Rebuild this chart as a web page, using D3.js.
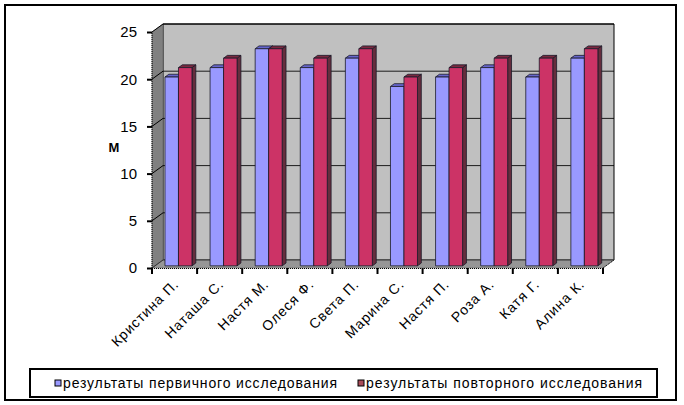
<!DOCTYPE html>
<html><head><meta charset="utf-8">
<script src="https://cdn.jsdelivr.net/npm/d3@7/dist/d3.min.js"></script>
<style>body{margin:0;background:#fff}svg{display:block}</style>
</head><body>
<svg id="c" width="684" height="405"></svg>
<script>
const categories = ["Кристина П.","Наташа С.","Настя М.","Олеся Ф.","Света П.","Марина С.","Настя П.","Роза А.","Катя Г.","Алина К."];
const primary = [20,21,23,21,22,19,20,21,20,22];
const repeat  = [21,22,23,22,23,20,21,22,22,23];
const seriesNames = ["результаты первичного исследования","результаты повторного исследования"];
const yTicks = [0,5,10,15,20,25];

const svg = d3.select("#c");
const font = "'Liberation Sans', Arial, sans-serif";
const DX = 11, DY = -8;           // depth offset of back wall
const x0 = 152, x1 = 603, yBot = 268, yTop = 32;
const y = d3.scaleLinear().domain([0,25]).range([yBot, yTop]);
const xb = d3.scaleBand().domain(categories).range([x0, x1]).paddingInner(0).paddingOuter(0);
const sub = d3.scaleBand().domain([0,1]).range([10, 37]).paddingInner(0).paddingOuter(0);

// outer border
svg.append("rect").attr("x",5).attr("y",5).attr("width",671).attr("height",395)
  .attr("fill","#fff").attr("stroke","#000").attr("stroke-width",2);

const pt = (a)=>a.map(p=>p.join(",")).join(" ");
// back wall
svg.append("polygon").attr("points", pt([[x0+DX,y(25)+DY],[x1+DX+0,y(25)+DY],[x1+DX,y(0)+DY],[x0+DX,y(0)+DY]]))
  .attr("fill","#c0c0c0").attr("stroke","#000").attr("stroke-width",1);
// left wall
svg.append("polygon").attr("points", pt([[x0,y(0)],[x0,y(25)],[x0+DX,y(25)+DY],[x0+DX,y(0)+DY]]))
  .attr("fill","#808080").attr("stroke","#555").attr("stroke-width",0.5);
// floor
svg.append("polygon").attr("points", pt([[x0,y(0)],[x0+DX,y(0)+DY],[x1+DX,y(0)+DY],[x1,y(0)]]))
  .attr("fill","#969696").attr("stroke","#555").attr("stroke-width",0.5);

// gridlines on back wall and left wall
yTicks.filter(v=>v>0).forEach(v=>{
  svg.append("line").attr("x1",x0+DX).attr("x2",x1+DX).attr("y1",y(v)+DY).attr("y2",y(v)+DY)
    .attr("stroke","#000").attr("stroke-width",1).attr("opacity",v===25?1:0.85);
  svg.append("line").attr("x1",x0).attr("x2",x0+DX).attr("y1",y(v)).attr("y2",y(v)+DY)
    .attr("stroke","#000").attr("stroke-width",1);
});
svg.append("line").attr("x1",x0).attr("x2",x0+DX).attr("y1",y(0)).attr("y2",y(0)+DY).attr("stroke","#333");
svg.append("line").attr("x1",x0+DX).attr("x2",x1+DX).attr("y1",y(0)+DY).attr("y2",y(0)+DY).attr("stroke","#444");

// bars
const f0 = 0.27, f1 = 0.62;
const cols = [{front:"#9999ff", top:"#6666cc", side:"#4d4d99"},{front:"#cc3366", top:"#7a2a40", side:"#662d3d"}];
function drawBar(cx, w, v, c){
  const bx = cx + f0*DX, byb = y(0) + f0*DY, byt = y(v) + f0*DY;
  const ddx = (f1-f0)*DX, ddy = (f1-f0)*DY;
  const g = svg.append("g").attr("stroke","#1a1a2a").attr("stroke-width",0.8).attr("stroke-linejoin","round");
  g.append("polygon").attr("points", pt([[bx+w,byb],[bx+w,byt],[bx+w+ddx,byt+ddy],[bx+w+ddx,byb+ddy]])).attr("fill",c.side);
  g.append("polygon").attr("points", pt([[bx,byt],[bx+ddx,byt+ddy],[bx+w+ddx,byt+ddy],[bx+w,byt]])).attr("fill",c.top);
  g.append("rect").attr("x",bx).attr("y",byt).attr("width",w).attr("height",byb-byt).attr("fill",c.front);
}
categories.forEach((cat,i)=>{
  [primary[i], repeat[i]].forEach((v,s)=>{
    drawBar(xb(cat)+sub(s), sub.bandwidth(), v, cols[s]);
  });
});

// front axes (dotted edges)
svg.append("line").attr("x1",x0).attr("x2",x0).attr("y1",y(0)).attr("y2",y(25))
  .attr("stroke","#000").attr("stroke-dasharray","1,1");
svg.append("line").attr("x1",x0).attr("x2",x1).attr("y1",y(0)+0.5).attr("y2",y(0)+0.5)
  .attr("stroke","#000").attr("stroke-dasharray","1,1");
svg.append("line").attr("x1",x1).attr("x2",x1+DX).attr("y1",y(0)).attr("y2",y(0)+DY)
  .attr("stroke","#000").attr("stroke-dasharray","1,1");

// y axis ticks and labels
const yAxis = d3.axisLeft(y).tickValues(yTicks).tickSize(5).tickSizeOuter(0).tickPadding(10);
const ya = svg.append("g").attr("transform",`translate(${x0},0)`).call(yAxis);
ya.select(".domain").remove();
ya.selectAll("line").attr("stroke","#000").attr("stroke-width",2);
ya.selectAll("text").attr("font-family",font).attr("font-size",15).attr("fill","#000");

// x axis ticks
const xTickPos = d3.range(categories.length+1).map(i=> i<categories.length ? xb(categories[i]) : x1);
svg.selectAll(".xt").data(xTickPos).join("line").attr("class","xt")
  .attr("x1",d=>d).attr("x2",d=>d).attr("y1",y(0)).attr("y2",y(0)+6)
  .attr("stroke","#000").attr("stroke-width",2);

// category labels
svg.selectAll(".cl").data(categories).join("text").attr("class","cl")
  .attr("transform",d=>`translate(${xb(d)+xb.bandwidth()/2+5},${y(0)+17}) rotate(-45)`)
  .attr("text-anchor","end").attr("font-family",font).attr("font-size",14)
  .attr("letter-spacing","0.9px").text(d=>d);

// axis title
svg.append("text").attr("x",114).attr("y",152).attr("text-anchor","middle")
  .attr("font-family",font).attr("font-size",13).attr("font-weight","bold").text("М");

// legend
const lg = svg.append("g");
lg.append("rect").attr("x",30).attr("y",369).attr("width",627).attr("height",28)
  .attr("fill","#fff").attr("stroke","#000").attr("stroke-width",2);
const legX = [55, 358];
const legLen = [274, 276];
const legCols = ["#9999ff","#a84c58"];
seriesNames.forEach((n,i)=>{
  lg.append("rect").attr("x",legX[i]).attr("y",380).attr("width",6).attr("height",6)
    .attr("fill",legCols[i]).attr("stroke","#000").attr("stroke-width",1);
  lg.append("text").attr("x",legX[i]+8).attr("y",388).attr("font-family",font).attr("font-size",14)
    .attr("textLength",legLen[i]).attr("lengthAdjust","spacing").text(n);
});
</script>
</body></html>
